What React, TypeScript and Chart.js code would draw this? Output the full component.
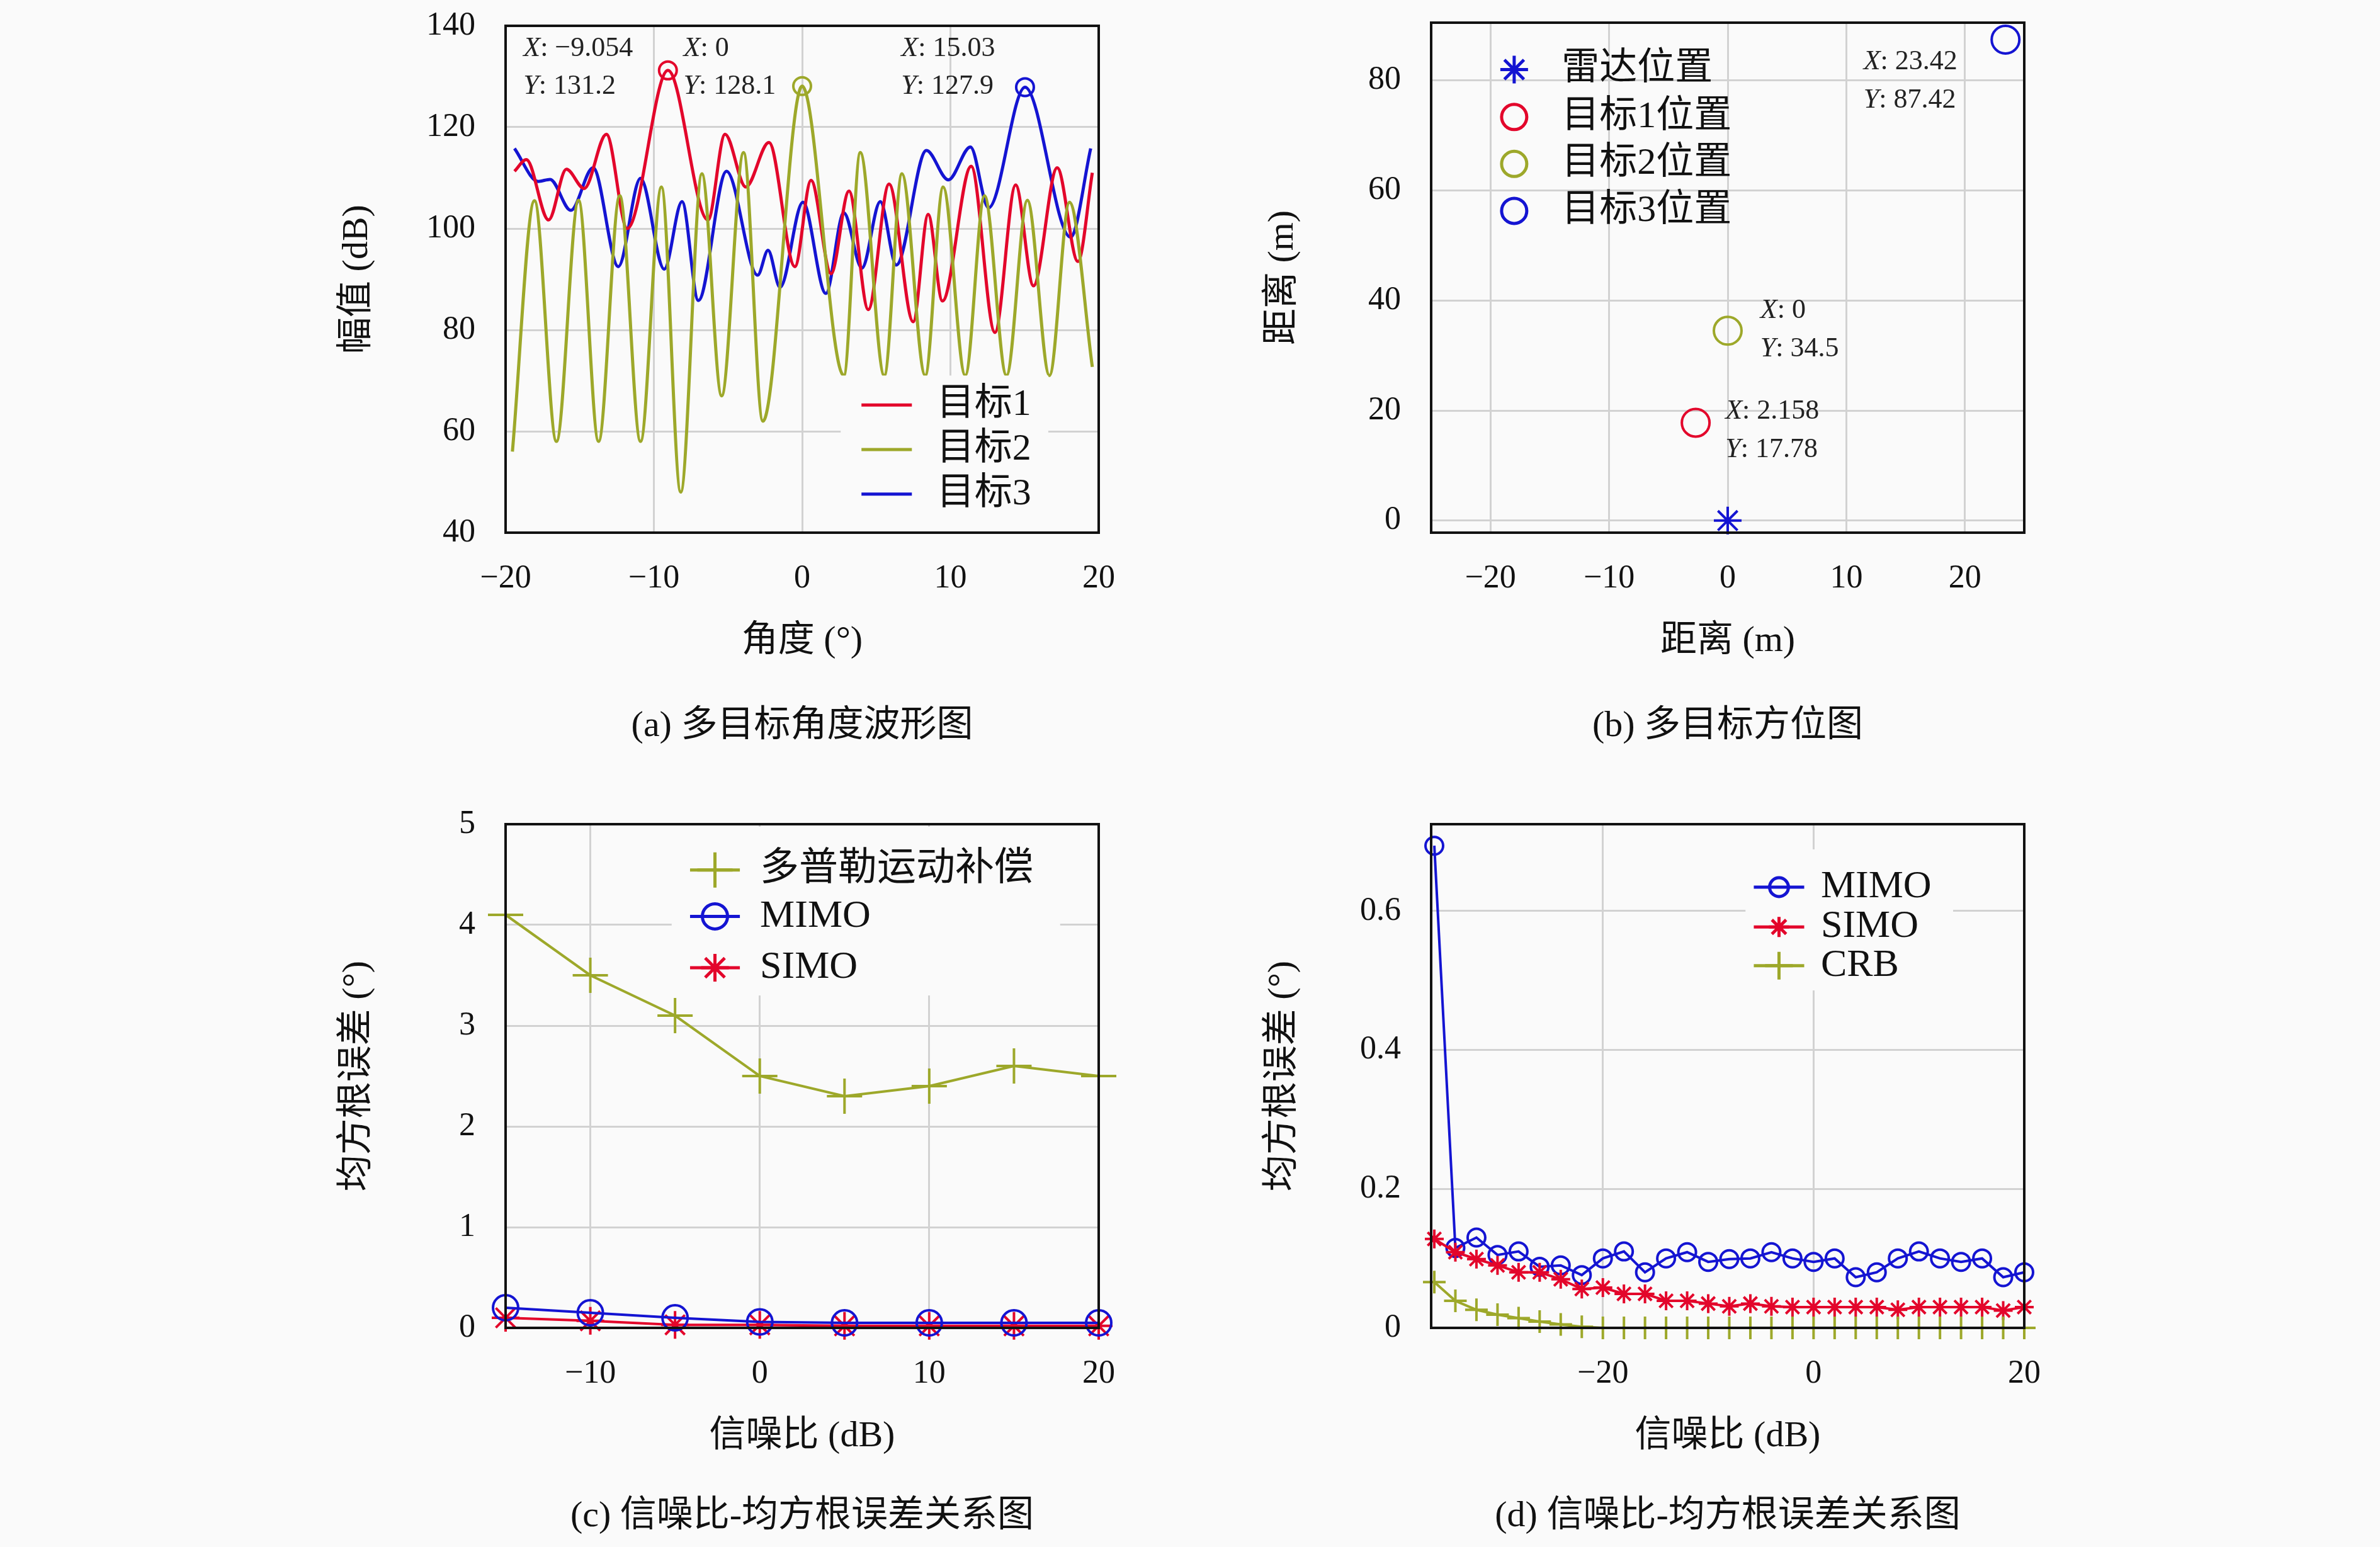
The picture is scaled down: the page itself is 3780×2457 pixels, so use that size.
import { useEffect, useRef } from 'react';
import { Chart, registerables } from 'chart.js';
import { drawPoint } from 'chart.js/helpers';

Chart.register(...registerables);

const FONT = '"Liberation Serif", "Noto Sans CJK SC", serif';
const BG = '#fafafa';
const RED = '#e3062b';
const OLIVE = '#9da82a';
const BLUE = '#1414d2';

// (a) 多目标角度波形图 — extrema
const t1Angle = [-19.4, -18.6, -17.1, -15.9, -14.7, -13.2, -11.8, -9.05, -6.35, -5.2, -3.8, -2.24, -0.49, 0.6, 1.95, 3.16, 4.46, 5.86, 7.49, 8.5, 9.46, 11.4, 13.0, 14.4, 15.6, 17.2, 18.6, 19.57];
const t1Amp = [111.3, 113.6, 101.7, 111.7, 107.9, 118.6, 100, 131.2, 101.7, 118.6, 108.2, 117, 92.5, 109.5, 91.1, 107.4, 84, 108.8, 81.6, 102.8, 85.7, 112.3, 79.5, 108.6, 88.7, 112, 93.5, 111];
const t2Angle = [-19.54, -18.05, -16.57, -15.08, -13.73, -12.3, -10.9, -9.49, -8.19, -6.76, -5.43, -3.95, -2.65, 0, 2.81, 3.92, 5.54, 6.73, 8.3, 9.51, 11.0, 12.3, 13.78, 15.19, 16.68, 18.03, 19.57];
const t2Amp = [56, 105.5, 58, 105.6, 58, 106.5, 58, 108.2, 48, 110.8, 67, 115, 62, 128.1, 71, 115, 71, 110.8, 71, 108.2, 71, 106.5, 71, 105.6, 71, 105.2, 72.7];
const t3Angle = [-19.4, -17.8, -17.0, -15.6, -14.1, -12.4, -10.9, -9.3, -8.1, -7.0, -5.1, -3.0, -2.3, -1.49, 0.05, 1.6, 2.81, 4.03, 5.27, 6.35, 8.38, 9.86, 11.35, 12.57, 15.03, 18.1, 19.46];
const t3Amp = [115.8, 109.3, 109.7, 103.6, 112, 92.5, 109.9, 92, 105.3, 85.8, 111.3, 90.8, 95.7, 88.4, 105.2, 87.2, 103.1, 92.2, 105.3, 92.8, 115.4, 109.6, 116.1, 104.1, 127.9, 98.3, 115.8];
const peakX = [-9.054, 0, 15.03];
const peakY = [131.2, 128.1, 127.9];

// (b) 多目标方位图
const radarPos = { x: 0, y: 0 };
const targetX = [-2.7, 0, 23.42];
const targetY = [17.78, 34.5, 87.42];

// (c) SNR vs RMSE
const snrC = [-15, -10, -5, 0, 5, 10, 15, 20];
const dopplerC = [4.1, 3.5, 3.1, 2.5, 2.3, 2.4, 2.6, 2.5];
const mimoC = [0.2, 0.15, 0.1, 0.06, 0.05, 0.05, 0.05, 0.05];
const simoC = [0.1, 0.07, 0.03, 0.03, 0.02, 0.02, 0.02, 0.02];

// (d) SNR vs RMSE
const snrD = [-36, -34, -32, -30, -28, -26, -24, -22, -20, -18, -16, -14, -12, -10, -8, -6, -4, -2, 0, 2, 4, 6, 8, 10, 12, 14, 16, 18, 20];
const mimoD = [0.694, 0.115, 0.13, 0.105, 0.11, 0.088, 0.09, 0.076, 0.1, 0.11, 0.08, 0.1, 0.109, 0.095, 0.099, 0.1, 0.109, 0.1, 0.095, 0.1, 0.073, 0.08, 0.1, 0.11, 0.1, 0.095, 0.1, 0.073, 0.08];
const simoD = [0.128, 0.109, 0.099, 0.09, 0.08, 0.08, 0.07, 0.056, 0.058, 0.049, 0.049, 0.039, 0.039, 0.035, 0.031, 0.035, 0.031, 0.03, 0.03, 0.03, 0.03, 0.03, 0.026, 0.03, 0.03, 0.03, 0.03, 0.025, 0.03];
const crbD = [0.066, 0.039, 0.026, 0.019, 0.014, 0.009, 0.005, 0.0015, 0, 0, 0, 0, 0, 0, 0, 0, 0, 0, 0, 0, 0, 0, 0, 0, 0, 0, 0, 0, 0];

const zip = (xs: number[], ys: number[]) => xs.map((x, i) => ({ x, y: ys[i] }));
const fmt = (v: number) => String(v).replace('-', '\u2212');

const PAD_L = 300;
const PAD_T = 40;
const PAD_R = 70;
const AX_H = 230;

function axis(min: number, max: number, ticks: number[], title: string, isY: boolean) {
  return {
    type: 'linear',
    min,
    max,
    afterBuildTicks: (s: any) => { s.ticks = ticks.map(v => ({ value: v })); },
    afterFit: (s: any) => {
      if (isY) { s.width = PAD_L; s.paddingTop = 0; s.paddingBottom = 0; }
      else { s.height = AX_H; s.paddingLeft = 0; s.paddingRight = 0; }
    },
    grid: { color: '#d2d2d2', lineWidth: 3, drawTicks: false },
    border: { display: false },
    ticks: {
      font: { family: FONT, size: 52 },
      color: '#111',
      padding: isY ? 48 : 42,
      callback: (v: number) => fmt(v),
    },
    title: {
      display: true,
      text: title,
      color: '#111',
      font: { family: FONT, size: 58 },
      padding: isY ? { top: 30, bottom: 0 } : { top: 0, bottom: 22 },
    },
  };
}

type LegendItem = { label: string; color: string; marker?: string; line: boolean; radius?: number };
type Note = { fx: number; fy: number; x: string; y: string };
type Extra = {
  box?: [number, number, number, number];
  legend: { items: LegendItem[]; lx0: number; lx1: number; tx: number; rows: number[]; size: number };
  notes?: Note[];
};

function drawNoteLine(ctx: CanvasRenderingContext2D, x: number, y: number, letter: string, rest: string) {
  ctx.textBaseline = 'middle';
  ctx.textAlign = 'left';
  ctx.fillStyle = '#222';
  ctx.font = `italic 44px ${FONT}`;
  ctx.fillText(letter, x, y);
  const w = ctx.measureText(letter).width;
  ctx.font = `44px ${FONT}`;
  ctx.fillText(': ' + rest, x + w, y);
}

function overlay(extra: Extra) {
  return {
    id: 'overlay',
    afterDatasetsDraw(chart: any) {
      const { ctx, chartArea: a } = chart;
      const W = a.right - a.left;
      const H = a.bottom - a.top;
      ctx.save();
      if (extra.box) {
        const [x0, y0, x1, y1] = extra.box;
        ctx.fillStyle = BG;
        ctx.fillRect(a.left + x0 * W, a.top + y0 * H, (x1 - x0) * W, (y1 - y0) * H);
      }
      // frame
      ctx.strokeStyle = '#111';
      ctx.lineWidth = 4;
      ctx.strokeRect(a.left, a.top, W, H);
      const lg = extra.legend;
      lg.items.forEach((it, i) => {
        const y = a.top + lg.rows[i] * H;
        ctx.strokeStyle = it.color;
        ctx.lineWidth = 5;
        if (it.line) {
          ctx.beginPath();
          ctx.moveTo(a.left + lg.lx0 * W, y);
          ctx.lineTo(a.left + lg.lx1 * W, y);
          ctx.stroke();
        }
        if (it.marker) {
          ctx.fillStyle = 'rgba(0,0,0,0)';
          drawPoint(ctx, { pointStyle: it.marker, radius: it.radius || 18, rotation: 0, borderWidth: 4 } as any,
            a.left + ((lg.lx0 + lg.lx1) / 2) * W, y);
        }
        ctx.fillStyle = '#111';
        ctx.font = `${lg.size}px ${FONT}`;
        ctx.textAlign = 'left';
        ctx.textBaseline = 'middle';
        ctx.fillText(it.label, a.left + lg.tx * W, y);
      });
      (extra.notes || []).forEach(n => {
        drawNoteLine(ctx, a.left + n.fx * W, a.top + n.fy * H, 'X', n.x);
        drawNoteLine(ctx, a.left + n.fx * W, a.top + (n.fy + 0.075) * H, 'Y', n.y);
      });
      ctx.restore();
    },
  };
}

function Panel({ left, top, w, h, make }: { left: number; top: number; w: number; h: number; make: () => any }) {
  const ref = useRef<HTMLCanvasElement | null>(null);
  useEffect(() => {
    const chart = new Chart(ref.current as HTMLCanvasElement, make());
    return () => chart.destroy();
  }, []);
  const cw = PAD_L + w + PAD_R;
  const ch = PAD_T + h + AX_H;
  return (
    <div style={{ position: 'absolute', left: left - PAD_L, top: top - PAD_T, width: cw, height: ch }}>
      <canvas ref={ref} width={cw} height={ch} style={{ width: cw, height: ch }} />
    </div>
  );
}

const baseOptions = (x: any, y: any) => ({
  animation: false,
  responsive: false,
  devicePixelRatio: 1,
  layout: { padding: { top: PAD_T, right: PAD_R, left: 0, bottom: 0 } },
  plugins: { legend: { display: false }, tooltip: { enabled: false } },
  scales: { x, y },
});

const curve = (data: any[], color: string) => ({
  data, borderColor: color, borderWidth: 5, pointRadius: 0, cubicInterpolationMode: 'monotone', fill: false,
});

const makeA = () => ({
  type: 'line',
  data: {
    datasets: [
      curve(zip(t2Angle, t2Amp), OLIVE),
      curve(zip(t1Angle, t1Amp), RED),
      curve(zip(t3Angle, t3Amp), BLUE),
      {
        data: zip(peakX, peakY), showLine: false, pointRadius: 14, pointBorderWidth: 4,
        pointBackgroundColor: 'transparent', pointBorderColor: [RED, OLIVE, BLUE],
      },
    ],
  },
  options: baseOptions(
    axis(-20, 20, [-20, -10, 0, 10, 20], '角度 (°)', false),
    axis(40, 140, [40, 60, 80, 100, 120, 140], '幅值 (dB)', true),
  ),
  plugins: [overlay({
    box: [0.565, 0.69, 0.915, 1],
    legend: {
      items: [
        { label: '目标1', color: RED, line: true },
        { label: '目标2', color: OLIVE, line: true },
        { label: '目标3', color: BLUE, line: true },
      ],
      lx0: 0.6, lx1: 0.685, tx: 0.727, rows: [0.748, 0.836, 0.924], size: 60,
    },
    notes: [
      { fx: 0.03, fy: 0.045, x: '\u22129.054', y: '131.2' },
      { fx: 0.3, fy: 0.045, x: '0', y: '128.1' },
      { fx: 0.667, fy: 0.045, x: '15.03', y: '127.9' },
    ],
  })],
});

const makeB = () => ({
  type: 'scatter',
  data: {
    datasets: [
      { data: [radarPos], pointStyle: 'star', pointRadius: 22, pointBorderWidth: 4, pointBorderColor: BLUE },
      {
        data: zip(targetX, targetY), pointStyle: 'circle', pointRadius: 22, pointBorderWidth: 4,
        pointBackgroundColor: 'transparent', pointBorderColor: [RED, OLIVE, BLUE],
      },
    ],
  },
  options: {
    ...baseOptions(
      axis(-25, 25, [-20, -10, 0, 10, 20], '距离 (m)', false),
      axis(-2.2, 90.5, [0, 20, 40, 60, 80], '距离 (m)', true),
    ),
    clip: false,
  },
  plugins: [overlay({
    legend: {
      items: [
        { label: '雷达位置', color: BLUE, marker: 'star', line: false, radius: 22 },
        { label: '目标1位置', color: RED, marker: 'circle', line: false, radius: 20 },
        { label: '目标2位置', color: OLIVE, marker: 'circle', line: false, radius: 20 },
        { label: '目标3位置', color: BLUE, marker: 'circle', line: false, radius: 20 },
      ],
      lx0: 0.12, lx1: 0.16, tx: 0.22, rows: [0.092, 0.185, 0.277, 0.369], size: 60,
    },
    notes: [
      { fx: 0.729, fy: 0.077, x: '23.42', y: '87.42' },
      { fx: 0.555, fy: 0.565, x: '0', y: '34.5' },
      { fx: 0.496, fy: 0.762, x: '2.158', y: '17.78' },
    ],
  })],
});

const makeC = () => ({
  type: 'line',
  data: {
    datasets: [
      { data: zip(snrC, dopplerC), borderColor: OLIVE, borderWidth: 4, pointStyle: 'cross', pointRadius: 28, pointBorderWidth: 4, pointBorderColor: OLIVE },
      { data: zip(snrC, mimoC), borderColor: BLUE, borderWidth: 4, pointStyle: 'circle', pointRadius: 20, pointBorderWidth: 4, pointBorderColor: BLUE, pointBackgroundColor: 'transparent' },
      { data: zip(snrC, simoC), borderColor: RED, borderWidth: 4, pointStyle: 'star', pointRadius: 22, pointBorderWidth: 4, pointBorderColor: RED },
    ],
  },
  options: {
    ...baseOptions(
      axis(-15, 20, [-10, 0, 10, 20], '信噪比 (dB)', false),
      axis(0, 5, [0, 1, 2, 3, 4, 5], '均方根误差 (°)', true),
    ),
    clip: false,
  },
  plugins: [overlay({
    box: [0.28, 0.005, 0.935, 0.34],
    legend: {
      items: [
        { label: '多普勒运动补偿', color: OLIVE, marker: 'cross', line: true, radius: 28 },
        { label: 'MIMO', color: BLUE, marker: 'circle', line: true, radius: 20 },
        { label: 'SIMO', color: RED, marker: 'star', line: true, radius: 22 },
      ],
      lx0: 0.311, lx1: 0.395, tx: 0.429, rows: [0.091, 0.183, 0.285], size: 62,
    },
  })],
});

const makeD = () => ({
  type: 'line',
  data: {
    datasets: [
      { data: zip(snrD, crbD), borderColor: OLIVE, borderWidth: 4, pointStyle: 'cross', pointRadius: 18, pointBorderWidth: 4, pointBorderColor: OLIVE },
      { data: zip(snrD, simoD), borderColor: RED, borderWidth: 4, pointStyle: 'star', pointRadius: 15, pointBorderWidth: 4, pointBorderColor: RED },
      { data: zip(snrD, mimoD), borderColor: BLUE, borderWidth: 4, pointStyle: 'circle', pointRadius: 14, pointBorderWidth: 4, pointBorderColor: BLUE, pointBackgroundColor: 'transparent' },
    ],
  },
  options: {
    ...baseOptions(
      axis(-36.3, 20, [-20, 0, 20], '信噪比 (dB)', false),
      axis(0, 0.725, [0, 0.2, 0.4, 0.6], '均方根误差 (°)', true),
    ),
    clip: false,
  },
  plugins: [overlay({
    box: [0.53, 0.05, 0.88, 0.33],
    legend: {
      items: [
        { label: 'MIMO', color: BLUE, marker: 'circle', line: true, radius: 15 },
        { label: 'SIMO', color: RED, marker: 'star', line: true, radius: 16 },
        { label: 'CRB', color: OLIVE, marker: 'cross', line: true, radius: 22 },
      ],
      lx0: 0.544, lx1: 0.629, tx: 0.657, rows: [0.125, 0.204, 0.281], size: 62,
    },
  })],
});

const captionStyle = (cx: number, cy: number) => ({
  position: 'absolute' as const, left: cx - 700, width: 1400, top: cy - 40, textAlign: 'center' as const,
  fontFamily: FONT, fontSize: 58, color: '#111', lineHeight: '80px',
});

export default function App() {
  return (
    <div style={{ position: 'absolute', left: 0, top: 0, width: 3780, height: 2457, background: BG, overflow: 'hidden' }}>
      <Panel left={803} top={41} w={942} h={805} make={makeA} />
      <Panel left={2273} top={36} w={942} h={810} make={makeB} />
      <Panel left={803} top={1309} w={942} h={800} make={makeC} />
      <Panel left={2273} top={1309} w={942} h={800} make={makeD} />
      <div style={captionStyle(1274, 1150)}>(a) 多目标角度波形图</div>
      <div style={captionStyle(2744, 1150)}>(b) 多目标方位图</div>
      <div style={captionStyle(1274, 2405)}>(c) 信噪比-均方根误差关系图</div>
      <div style={captionStyle(2744, 2405)}>(d) 信噪比-均方根误差关系图</div>
    </div>
  );
}
